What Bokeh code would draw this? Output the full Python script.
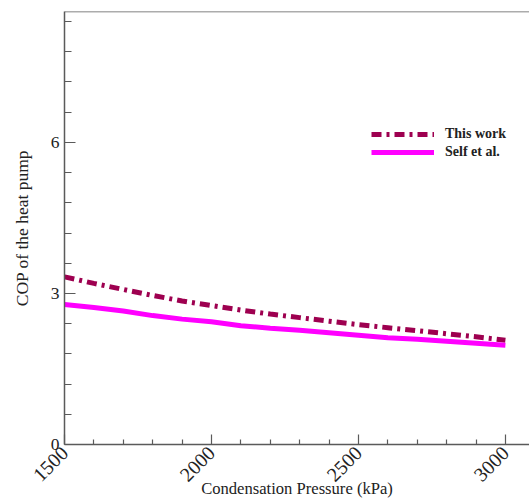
import math
from bokeh.plotting import figure
from bokeh.models import (Range1d, FixedTicker, Span, Legend, LegendItem)
from bokeh.embed import file_html
from bokeh.resources import INLINE

# Condensation pressure (kPa) and heat pump COP for both data sets
pressure = [1500, 1600, 1700, 1800, 1900, 2000, 2100, 2200,
            2300, 2400, 2500, 2600, 2700, 2800, 2900, 3000]
cop_this_work = [3.33, 3.20, 3.08, 2.96, 2.85, 2.76, 2.67, 2.59,
                 2.52, 2.45, 2.38, 2.32, 2.26, 2.20, 2.14, 2.07]
cop_self = [2.78, 2.72, 2.65, 2.56, 2.49, 2.44, 2.36, 2.31,
            2.27, 2.22, 2.17, 2.12, 2.09, 2.05, 2.01, 1.97]

x_major = [1500, 2000, 2500, 3000]
x_minor = [v for v in range(1500, 3101, 100) if v not in x_major]
y_major = [0, 3, 6]
y_minor = [round(0.6 * i, 1) for i in range(15) if round(0.6 * i, 1) not in y_major]

SERIF = "Liberation Serif"
AXIS_COLOR = "#5a5a5a"
TEXT_COLOR = "#222222"

p = figure(width=529, height=501, output_backend="svg", toolbar_location=None,
           x_range=Range1d(1500, 3082), y_range=Range1d(0, 8.6),
           min_border_left=64, min_border_right=0, min_border_top=11,
           min_border_bottom=57)
p.outline_line_color = None
p.grid.visible = False
p.background_fill_color = "white"
p.border_fill_color = "white"

l1 = p.line(pressure, cop_this_work, line_color="#9e0050", line_width=5,
            line_dash="10 5 3 5")
l2 = p.line(pressure, cop_self, line_color="#ff00ff", line_width=5)

# top frame edge
p.add_layout(Span(location=8.6, dimension="width", line_color=AXIS_COLOR,
                  line_width=1.5))

for ax in (p.xaxis[0], p.yaxis[0]):
    ax.axis_line_color = AXIS_COLOR
    ax.axis_line_width = 1.5
    ax.major_tick_line_color = AXIS_COLOR
    ax.minor_tick_line_color = AXIS_COLOR
    ax.major_tick_line_width = 1.2
    ax.minor_tick_line_width = 1.2
    ax.major_tick_out = 0
    ax.minor_tick_out = 0
    ax.major_label_text_font = SERIF
    ax.major_label_text_color = TEXT_COLOR
    ax.axis_label_text_font = SERIF
    ax.axis_label_text_font_style = "normal"
    ax.axis_label_text_color = TEXT_COLOR

xa = p.xaxis[0]
xa.ticker = FixedTicker(ticks=x_major, minor_ticks=x_minor)
xa.major_tick_in = 10
xa.minor_tick_in = 5
xa.major_label_orientation = math.pi / 4
xa.major_label_standoff = 5
xa.major_label_text_font_size = "20px"
xa.axis_label = "Condensation Pressure (kPa)"
xa.axis_label_text_font_size = "16.6px"
xa.axis_label_standoff = -12

ya = p.yaxis[0]
ya.ticker = FixedTicker(ticks=y_major, minor_ticks=y_minor)
ya.major_tick_in = 11
ya.minor_tick_in = 7
ya.major_label_standoff = 5
ya.major_label_orientation = "horizontal"
ya.major_label_text_font_size = "17.5px"
ya.axis_label = "COP of the heat pump"
ya.axis_label_text_font_size = "17.5px"
ya.axis_label_standoff = 16

legend = Legend(items=[LegendItem(label="This work", renderers=[l1]),
                       LegendItem(label="Self et al.", renderers=[l2])],
                location=(307, 283), orientation="vertical",
                padding=0, margin=0, spacing=0,
                glyph_width=63, glyph_height=18, label_height=18,
                label_standoff=11,
                label_text_font=SERIF, label_text_font_size="14px",
                label_text_font_style="bold", label_text_color=TEXT_COLOR,
                border_line_alpha=0, background_fill_alpha=0)
p.add_layout(legend)

open("out.html", "w").write(file_html(p, INLINE))
